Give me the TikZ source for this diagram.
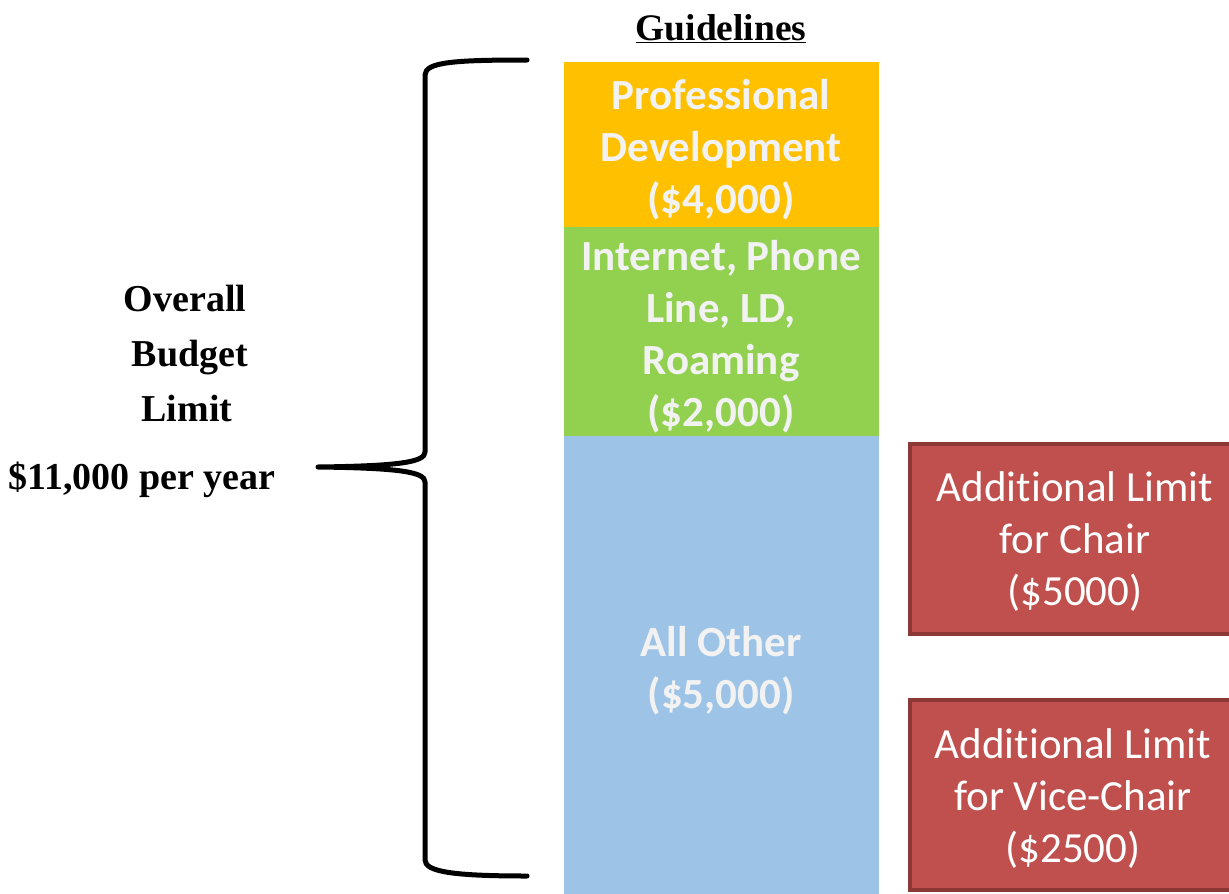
\documentclass[tikz,border=0pt]{standalone}
\usepackage{fontspec}
\setmainfont{Liberation Serif}
\newfontfamily\calfont[Ligatures={NoCommon}]{Carlito}
\definecolor{cOrange}{HTML}{FFC000}
\definecolor{cGreen}{HTML}{92D050}
\definecolor{cBlue}{HTML}{9DC3E6}
\definecolor{cRed}{HTML}{C0504D}
\definecolor{cRedEdge}{HTML}{8C3836}
\definecolor{cText}{HTML}{F2F2F2}
\tikzset{
  bandtext/.style={text=cText, font=\calfont\bfseries\fontsize{43}{52}\selectfont, align=center, inner sep=0pt},
  redbox/.style={fill=cRed, draw=cRedEdge, line width=4pt},
  redtext/.style={text=white, font=\calfont\fontsize{43}{52}\selectfont, align=center, inner sep=0pt},
  lefttext/.style={font=\bfseries\fontsize{38}{44}\selectfont, inner sep=0pt, anchor=base}
}
\begin{document}
\begin{tikzpicture}[x=1pt,y=-1pt]
\useasboundingbox (0,0) rectangle (1229,894);
\clip (0,0) rectangle (1229,894);
% bands
\fill[cOrange] (564,62) rectangle (879,227);
\fill[cGreen] (564,227) rectangle (879,436);
\fill[cBlue] (564,436) rectangle (879,894);
\node[bandtext] (pd) at (721,150) {Professional\\Development\\(\$4,000)};
\node[bandtext] (net) at (721,336.5) {Internet, Phone\\Line, LD,\\Roaming\\(\$2,000)};
\node[bandtext] (oth) at (721,671) {All Other\\(\$5,000)};
% red boxes
\draw[redbox] (910,444) rectangle (1250,634);
\draw[redbox] (910,700) rectangle (1250,890);
\node[redtext] (chair) at (1075,542) {Additional Limit\\for Chair\\(\$5000)};
\node[redtext] (vice) at (1073,799) {Additional Limit\\for Vice-Chair\\(\$2500)};
% title
\node[font=\bfseries\fontsize{37.5}{42}\selectfont, anchor=base, inner sep=0pt] (title) at (721,40) {\underline{Guidelines}};
% left text
\node[lefttext] (l1) at (185,311) {Overall};
\node[lefttext] (l2) at (190,366) {Budget};
\node[lefttext] (l3) at (187,421) {Limit};
\node[lefttext] (l4) at (142,489) {\$11,000 per year};
% brace
\draw[line width=5pt, line cap=round, line join=round]
  (527,60) .. controls (455,60) and (425,62) .. (425,75)
  -- (425,452) .. controls (425,462) and (400,466) .. (318,467)
  .. controls (400,468) and (425,472) .. (425,482)
  -- (425,860) .. controls (425,872) and (455,876) .. (527,876);
\end{tikzpicture}
\end{document}
